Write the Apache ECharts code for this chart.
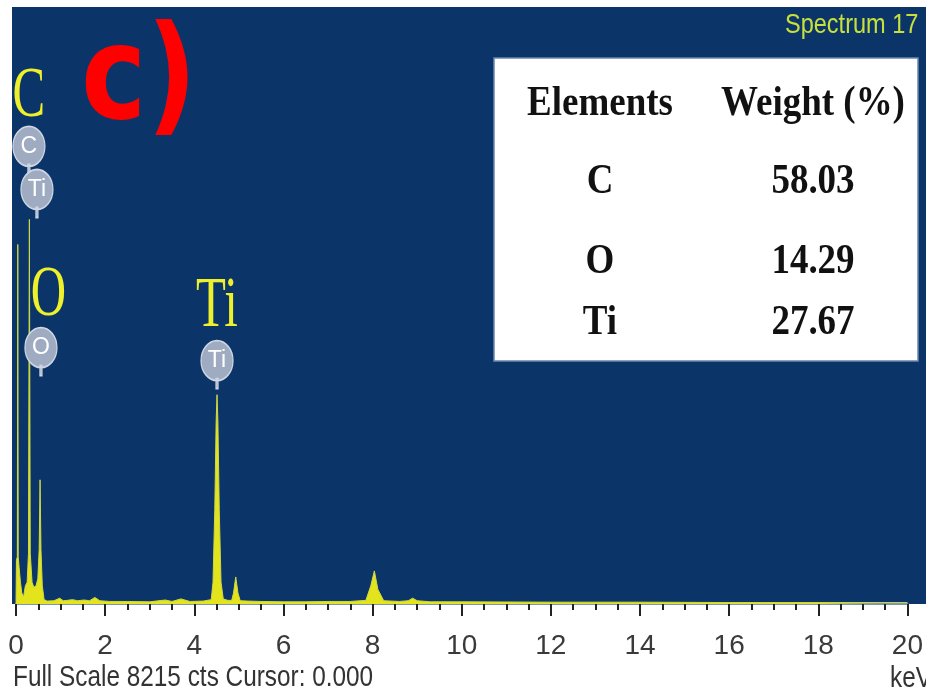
<!DOCTYPE html>
<html><head><meta charset="utf-8">
<script src="https://cdn.jsdelivr.net/npm/echarts@6/dist/echarts.min.js"></script>
<style>html,body{margin:0;padding:0;background:#fff}#c{width:926px;height:695px}</style>
</head><body><div id="c"></div>
<script>
// ---- data ----
const energyKeV = [0.00,0.01,0.03,0.04,0.05,0.07,0.10,0.13,0.17,0.21,0.25,0.28,0.30,0.32,0.36,0.40,0.45,0.49,0.52,0.54,0.56,0.59,0.63,0.70,0.85,0.98,1.06,1.15,1.27,1.38,1.53,1.65,1.77,1.88,2.10,2.50,3.00,3.35,3.50,3.70,3.90,4.20,4.38,4.42,4.46,4.49,4.51,4.53,4.56,4.60,4.65,4.75,4.84,4.88,4.93,4.98,5.03,5.20,5.50,6.00,6.50,7.00,7.50,7.85,7.96,8.04,8.12,8.25,8.60,8.80,8.90,9.00,9.30,10.0,12.0,14.0,16.0,18.0,20.0];
const counts    = [0,600,650,4947,650,500,300,150,100,250,300,700,5293,700,300,230,250,350,750,1709,750,250,60,40,45,80,45,50,60,45,55,45,90,45,35,35,30,55,35,70,35,40,60,300,1300,2500,2880,2500,1300,300,70,50,50,150,372,150,45,40,35,30,30,35,35,50,250,455,200,45,35,45,80,45,30,30,25,25,20,20,20];
const fullScale = 8215;
const bubbleNames = ['C','Ti','O','Ti'];
const bubbleCoords = [[0.29,5912],[0.47,5319],[0.56,3142],[4.51,2963]];
const peakNames = ['C','O','Ti'];
const peakCoords = [[0.29,6973],[0.73,4231],[4.51,4079]];
const tableHeader = ['Elements','Weight (%)'];
const tableElements = ['C','O','Ti'];
const tableWeights = ['58.03','14.29','27.67'];
const panelLabel = 'c)';
const spectrumTitle = 'Spectrum 17';
const footerText = 'Full Scale ' + fullScale + ' cts Cursor: 0.000';
const unitText = 'keV';

const chart = echarts.init(document.getElementById('c'), null, {renderer:'canvas'});
const narrow = '"Liberation Sans Narrow","Arial Narrow","Liberation Sans",sans-serif';
const bubblePath = 'path://M0 20 A16 20 0 1 1 32 20 A16 20 0 1 1 0 20 Z M15 38 L17 38 L17 48 L15 48 Z';

const option = {
  animation:false,
  backgroundColor:'#ffffff',
  grid:{left:16,right:10,top:7,bottom:91},
  xAxis:{type:'value',min:0,max:20,interval:2,
    axisLine:{lineStyle:{color:'#7d95b4',width:2}},
    axisTick:{length:12,lineStyle:{color:'#222',width:2}},
    minorTick:{show:true,splitNumber:4,length:6,lineStyle:{color:'#222',width:2}},
    splitLine:{show:false},minorSplitLine:{show:false},
    axisLabel:{fontFamily:narrow,fontSize:28,color:'#3a3a3a',margin:28}},
  yAxis:{type:'value',min:0,max:fullScale,show:false},
  series:[{type:'line',symbol:'none',smooth:false,z:3,
    data:energyKeV.map((e,i)=>[e,counts[i]]),
    lineStyle:{color:'#cfd845',width:1},
    areaStyle:{color:'#e3e41c',opacity:1},
    markPoint:{symbol:bubblePath,symbolSize:[32,48],symbolKeepAspect:false,symbolOffset:[0,'-50%'],
      itemStyle:{color:'#9eabc1',borderColor:'#cfd6e3',borderWidth:1.5},
      label:{show:true,position:'inside',offset:[0,-4],color:'#ffffff',fontSize:23,fontFamily:narrow,formatter:'{b}'},
      data:bubbleCoords.map((c,i)=>({name:bubbleNames[i],coord:c}))}
  }],
  graphic:[]
};
chart.setOption(option);

const g = [];
g.push({type:'rect',z:-10,silent:true,shape:{x:12,y:7,width:914,height:597},style:{fill:'#0b3569'}});
// table
g.push({type:'rect',z:10,shape:{x:494,y:58,width:424,height:303},style:{fill:'#ffffff',stroke:'#6b86b0',lineWidth:1.5}});
const colX = [600,813];
const rowY = [104,182,262,323];
const tfont = 'bold 43px "Liberation Serif",serif';
tableHeader.forEach((t,j)=>g.push({type:'text',z:11,x:colX[j],y:rowY[0],scaleX:0.86,style:{text:t,font:tfont,fill:'#111',align:'center',verticalAlign:'middle'}}));
tableElements.forEach((t,i)=>{
  g.push({type:'text',z:11,x:colX[0],y:rowY[i+1],scaleX:0.86,style:{text:t,font:tfont,fill:'#111',align:'center',verticalAlign:'middle'}});
  g.push({type:'text',z:11,x:colX[1],y:rowY[i+1],scaleX:0.86,style:{text:tableWeights[i],font:tfont,fill:'#111',align:'center',verticalAlign:'middle'}});
});
// panel label
g.push({type:'text',z:11,x:139,y:84,scaleX:0.85,style:{text:panelLabel,font:'bold 130px "DejaVu Sans",sans-serif',fill:'#ff0000',align:'center',verticalAlign:'middle'}});
g.push({type:'text',z:11,x:785,y:25,scaleX:0.84,style:{text:spectrumTitle,font:'28px "Liberation Sans",sans-serif',fill:'#c8e03c',align:'left',verticalAlign:'middle'}});
g.push({type:'text',z:11,x:13,y:678,scaleX:0.84,style:{text:footerText,font:'29px "Liberation Sans",sans-serif',fill:'#333',align:'left',verticalAlign:'middle'}});
g.push({type:'text',z:11,x:890,y:679,scaleX:0.84,style:{text:unitText,font:'29px "Liberation Sans",sans-serif',fill:'#333',align:'left',verticalAlign:'middle'}});
// element peak labels placed through the axes' scales
peakNames.forEach((n,i)=>{
  const p = chart.convertToPixel({gridIndex:0}, peakCoords[i]);
  g.push({type:'text',z:11,x:p[0],y:p[1],scaleX:0.68,style:{text:n,font:'72px "Liberation Serif",serif',fill:'#eef02c',align:'center',verticalAlign:'middle'}});
});
chart.setOption({graphic:g});
</script></body></html>
